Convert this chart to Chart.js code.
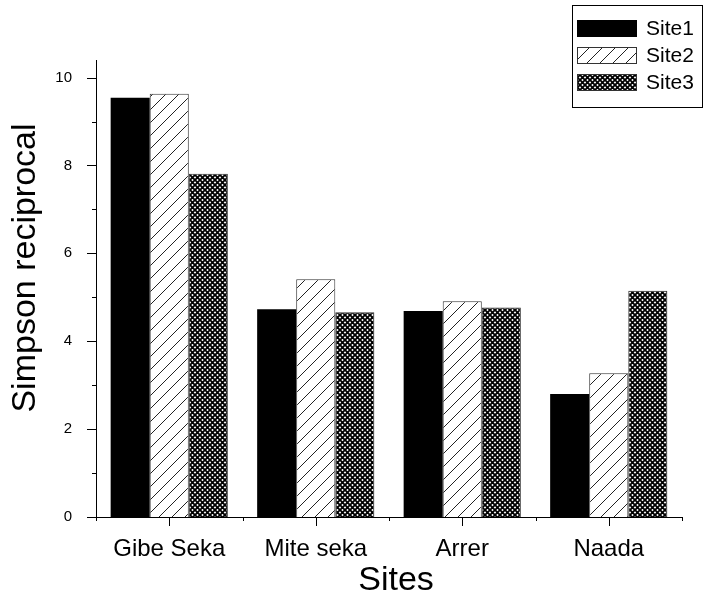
<!DOCTYPE html>
<html>
<head>
<meta charset="utf-8">
<script src="https://cdn.jsdelivr.net/npm/chart.js@4.4.1/dist/chart.umd.min.js"></script>
<style>
  html, body { margin: 0; padding: 0; background: #fff; }
  #chart { display: block; }
</style>
</head>
<body>
<canvas id="chart" width="704" height="601"></canvas>
<script>
const categories = ["Gibe Seka", "Mite seka", "Arrer", "Naada"];
const site1 = [9.54, 4.73, 4.69, 2.80];
const site2 = [9.63, 5.41, 4.91, 3.27];
const site3 = [7.81, 4.66, 4.77, 5.15];
const seriesNames = ["Site1", "Site2", "Site3"];
const yMax = 10.4;

const FONT = "Arial, 'Liberation Sans', sans-serif";

// diagonal "/" hatch for Site2
function hatchPattern() {
  const c = document.createElement("canvas");
  c.width = 13;
  c.height = 13;
  const g = c.getContext("2d");
  g.fillStyle = "#fff";
  g.fillRect(0, 0, 13, 13);
  g.strokeStyle = "#222";
  g.lineWidth = 1;
  g.beginPath();
  g.moveTo(-1, 14);
  g.lineTo(14, -1);
  g.stroke();
  return g.createPattern(c, "repeat");
}

// fine cross hatch for Site3
function crossPattern() {
  const c = document.createElement("canvas");
  c.width = 5;
  c.height = 5;
  const g = c.getContext("2d");
  g.fillStyle = "#fff";
  g.fillRect(0, 0, 5, 5);
  g.strokeStyle = "#000";
  g.lineWidth = 1.8;
  g.beginPath();
  g.moveTo(-1, -1); g.lineTo(6, 6);
  g.moveTo(-1, 6); g.lineTo(6, -1);
  g.stroke();
  return g.createPattern(c, "repeat");
}

const fills = ["#000", hatchPattern(), crossPattern()];
const borders = ["#000", "#333", "#333"];

const axisDecor = {
  id: "axisDecor",
  afterDraw(chart) {
    const ctx = chart.ctx;
    const xs = chart.scales.x;
    const ys = chart.scales.y;
    const area = chart.chartArea;
    ctx.save();
    ctx.strokeStyle = "#000";
    ctx.lineWidth = 1;
    ctx.beginPath();
    for (let v = 0; v <= 10; v++) {
      const py = Math.round(ys.getPixelForValue(v)) + 0.5;
      const len = v % 2 === 0 ? 9 : 4;
      ctx.moveTo(area.left - len, py);
      ctx.lineTo(area.left, py);
    }
    categories.forEach((c, i) => {
      const px = Math.round(xs.getPixelForValue(i)) + 0.5;
      ctx.moveTo(px, area.bottom);
      ctx.lineTo(px, area.bottom + 9);
    });
    for (let i = 0; i <= categories.length; i++) {
      const px = Math.round(xs.getPixelForValue(i - 0.5)) + 0.5;
      ctx.moveTo(px, area.bottom);
      ctx.lineTo(px, area.bottom + 4);
    }
    ctx.stroke();

    // axis titles
    ctx.fillStyle = "#000";
    ctx.textAlign = "center";
    ctx.textBaseline = "middle";
    ctx.font = "34px " + FONT;
    ctx.fillText("Sites", 396, 581);
    ctx.save();
    ctx.translate(26, 268);
    ctx.rotate(-Math.PI / 2);
    ctx.fillText("Simpson reciprocal", 0, 0);
    ctx.restore();

    // legend
    ctx.lineWidth = 1;
    ctx.strokeRect(572.5, 5.5, 130, 102);
    ctx.font = "21px " + FONT;
    ctx.textAlign = "left";
    chart.data.datasets.forEach((ds, i) => {
      const top = 20 + i * 27;
      ctx.fillStyle = ds.backgroundColor;
      ctx.fillRect(577, top, 60, 17);
      ctx.strokeStyle = ds.borderColor;
      ctx.strokeRect(577.5, top + 0.5, 59, 16);
      ctx.fillStyle = "#000";
      ctx.fillText(ds.label, 646, top + 9);
    });
    ctx.restore();
  }
};

new Chart(document.getElementById("chart"), {
  type: "bar",
  data: {
    labels: categories,
    datasets: [site1, site2, site3].map((vals, i) => ({
      label: seriesNames[i],
      data: vals,
      backgroundColor: fills[i],
      borderColor: borders[i],
      borderWidth: i === 0 ? 0 : 1,
      categoryPercentage: 0.8,
      barPercentage: 1.0,
    })),
  },
  options: {
    responsive: false,
    animation: false,
    devicePixelRatio: 1,
    layout: { padding: { top: 60, right: 22, left: 0, bottom: 0 } },
    plugins: {
      legend: { display: false },
      tooltip: { enabled: false },
    },
    scales: {
      x: {
        grid: { display: false },
        border: { display: true, color: "#000", width: 1 },
        ticks: { color: "#000", font: { family: FONT, size: 24 }, padding: 10 },
        afterFit: (s) => { s.height = 84; },
      },
      y: {
        min: 0,
        max: yMax,
        grid: { display: false },
        border: { display: true, color: "#000", width: 1 },
        ticks: {
          stepSize: 2,
          includeBounds: false,
          color: "#000",
          font: { family: FONT, size: 15 },
          padding: 16,
        },
        afterFit: (s) => { s.width = 96; },
      },
    },
  },
  plugins: [axisDecor],
});
</script>
</body>
</html>
